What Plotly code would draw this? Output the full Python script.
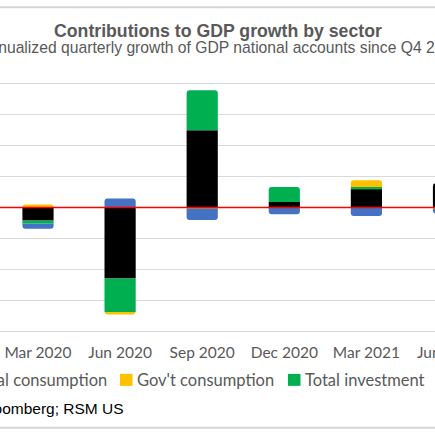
import plotly.graph_objects as go

# quarterly contributions to annualized GDP growth, percentage points
quarters = ["Mar 2020", "Jun 2020", "Sep 2020", "Dec 2020", "Mar 2021", "Jun 2021"]
personal = [-4.2, -22.8, 24.8, 1.8, 5.9, 7.8]
investment = [-1.0, -10.8, 12.9, 4.8, 0.7, -0.2]
govt = [1.0, -0.8, -0.3, 0.0, 2.2, -0.2]
net_exports = [-1.6, 2.9, -3.7, -2.2, -2.7, -1.5]

series = [
    ("Personal consumption", personal, "#000000"),
    ("Total investment", investment, "#00B050"),
    ("Gov't consumption", govt, "#FFC000"),
    ("Net exports", net_exports, "#4472C4"),
]

W = H = 435
# plot area in pixels; y range padded a little so the +/-40 gridlines get drawn
PAD = 0.35
UNIT = 249 / 80
TOP, BOT = 83 - PAD * UNIT, 332 + PAD * UNIT


def py(y):
    # pixel row -> paper y
    return (BOT - y) / (BOT - TOP)


fig = go.Figure()
for name, vals, col in series:
    fig.add_trace(go.Bar(x=quarters, y=vals, name=name, marker_color=col,
                         marker_line_width=0, showlegend=False))

gray = "#595959"
tick_font = dict(family="Lato", size=15.5, color=gray)
legend_font = dict(family="Lato", size=16.5, color=gray)

# legend built by hand so the swatch sits right next to the text
legend_items = [("Net exports", "#4472C4", -219),
                ("Personal consumption", "#000000", -70),
                ("Gov't consumption", "#FFC000", 120),
                ("Total investment", "#00B050", 288)]
shapes = []
annotations = []
for name, col, x0 in legend_items:
    shapes.append(dict(type="rect", xref="paper", yref="paper",
                       x0=x0 / W, x1=(x0 + 12.5) / W, y0=py(386), y1=py(374),
                       fillcolor=col, line_width=0))
    annotations.append(dict(text=name, xref="paper", yref="paper",
                            x=(x0 + 15) / W, y=py(380), xanchor="left",
                            yanchor="middle", showarrow=False, font=legend_font))

# outer chart frame: thin filled bands at top and bottom (sides fall outside the picture)
for yy in (7, 428):
    shapes.append(dict(type="rect", xref="paper", yref="paper", x0=0, x1=1,
                       y0=py(yy + 1), y1=py(yy - 1), fillcolor="#d6d6d6",
                       line_width=0))
shapes.append(dict(type="line", xref="paper", yref="y", x0=0, x1=1, y0=0, y1=0,
                   line=dict(color="#ff0000", width=1.5), layer="above"))

annotations += [
    dict(text="<b>Contributions to GDP growth by sector</b>", xref="paper", yref="paper",
         x=218 / W, y=py(31), xanchor="center", yanchor="middle", showarrow=False,
         font=dict(family="Liberation Sans", size=17.7, color=gray)),
    dict(text="Annualized quarterly growth of GDP national accounts since Q4 2019",
         xref="paper", yref="paper", x=219.5 / W, y=py(47), xanchor="center",
         yanchor="middle", showarrow=False,
         font=dict(family="Liberation Sans", size=15.7, color=gray)),
    dict(text="Source: Bloomberg; RSM US", xref="paper", yref="paper",
         x=-80 / W, y=py(409), xanchor="left", yanchor="middle", showarrow=False,
         font=dict(family="Liberation Sans", size=15.5, color="#000000")),
    # label of the quarter cut off at the right edge
    dict(text="Jun 2021", xref="paper", yref="paper", x=448.5 / W, y=py(352),
         xanchor="center", yanchor="middle", showarrow=False, font=tick_font),
]

step = 82.1
fig.update_layout(
    width=W, height=H,
    margin=dict(l=0, r=0, t=TOP, b=H - BOT, pad=0),
    barmode="relative", bargap=0.62, barcornerradius=3,
    paper_bgcolor="white", plot_bgcolor="white",
    shapes=shapes, annotations=annotations,
    xaxis=dict(type="category", categoryorder="array", categoryarray=quarters,
               range=[-38 / step, (W - 38) / step], showgrid=False, showline=False,
               zeroline=False, ticks="", tickfont=tick_font, ticklabelstandoff=8),
    yaxis=dict(range=[-40 - PAD, 40 + PAD], tickvals=list(range(-40, 41, 10)),
               showticklabels=False, zeroline=False,
               gridcolor="#d9d9d9", gridwidth=1.3),
)

# drop the browser's default 8px body margin so the figure sits at the corner
fig.write_html("out.html", config={"displayModeBar": False},
               post_script="document.body.style.margin='0';")
